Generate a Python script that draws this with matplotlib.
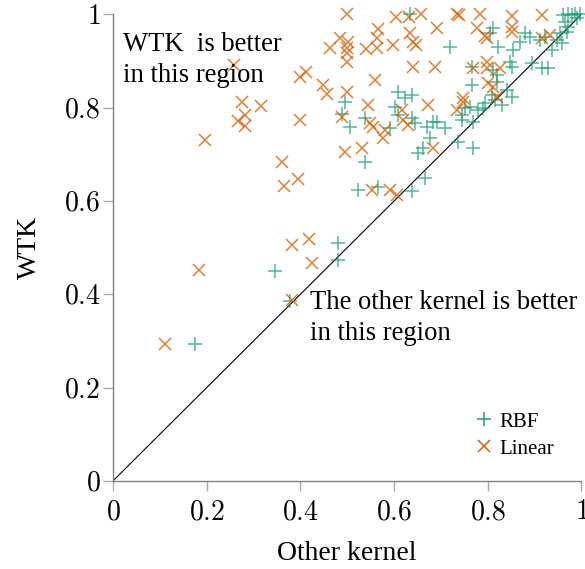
import numpy as np
from matplotlib import pyplot as plt

# Scores: x = other kernel, y = WTK
rbf_x = [0.175, 0.346, 0.378, 0.480, 0.480, 0.495, 0.489, 0.506, 0.538, 0.538,
         0.523, 0.566, 0.591, 0.602, 0.608, 0.623, 0.638, 0.634, 0.645, 0.670,
         0.683, 0.677, 0.662, 0.651, 0.666, 0.638, 0.692, 0.709, 0.736, 0.745,
         0.762, 0.768, 0.768, 0.790, 0.794, 0.815, 0.830, 0.852, 0.719, 0.811,
         0.805, 0.822, 0.879, 0.890, 0.869, 0.854, 0.954, 0.961, 0.971, 0.980,
         0.986, 0.997, 0.958, 0.937, 0.922, 0.971, 0.969, 0.847, 0.852, 0.894,
         0.916, 0.928, 0.820, 0.820, 0.766, 0.841, 0.809, 0.911, 0.948, 0.766,
         0.811, 0.751, 0.779, 0.608, 0.638, 0.745, 0.990, 0.965]
rbf_y = [0.294, 0.450, 0.386, 0.510, 0.474, 0.812, 0.786, 0.759, 0.778, 0.684,
         0.624, 0.630, 0.756, 0.801, 0.834, 0.821, 0.827, 1.000, 0.767, 0.759,
         0.769, 0.735, 0.714, 0.703, 0.649, 0.621, 0.769, 0.756, 0.726, 0.774,
         0.801, 0.769, 0.714, 0.799, 0.810, 0.816, 0.806, 0.823, 0.930, 0.971,
         0.960, 0.930, 0.960, 0.951, 0.941, 0.924, 0.960, 0.999, 1.000, 0.999,
         1.000, 1.000, 0.939, 0.924, 0.951, 0.973, 0.962, 0.898, 0.887, 0.896,
         0.885, 0.885, 0.870, 0.855, 0.849, 0.838, 0.827, 0.945, 0.945, 0.887,
         0.881, 0.799, 0.795, 0.784, 0.778, 0.784, 0.992, 0.984]

lin_x = [0.111, 0.184, 0.196, 0.258, 0.267, 0.275, 0.282, 0.282, 0.316, 0.361,
         0.365, 0.395, 0.382, 0.418, 0.425, 0.382, 0.399, 0.412, 0.399, 0.448,
         0.457, 0.463, 0.484, 0.501, 0.499, 0.499, 0.499, 0.499, 0.499, 0.489,
         0.495, 0.531, 0.540, 0.563, 0.563, 0.566, 0.559, 0.544, 0.549, 0.555,
         0.581, 0.576, 0.598, 0.604, 0.632, 0.657, 0.634, 0.640, 0.647, 0.640,
         0.617, 0.619, 0.630, 0.553, 0.591, 0.606, 0.672, 0.683, 0.687, 0.691,
         0.734, 0.739, 0.783, 0.852, 0.916, 0.777, 0.852, 0.852, 0.794, 0.798,
         0.916, 0.933, 0.768, 0.798, 0.798, 0.826, 0.800, 0.811, 0.747, 0.747,
         0.734, 0.820]
lin_y = [0.294, 0.452, 0.731, 0.891, 0.771, 0.812, 0.784, 0.761, 0.804, 0.684,
         0.632, 0.647, 0.506, 0.519, 0.467, 0.388, 0.866, 0.876, 0.774, 0.849,
         0.829, 0.928, 0.949, 0.941, 0.928, 0.917, 0.898, 1.000, 0.834, 0.780,
         0.705, 0.714, 0.926, 0.928, 0.949, 0.969, 0.859, 0.806, 0.767, 0.759,
         0.752, 0.735, 0.934, 0.994, 0.994, 1.000, 0.960, 0.941, 0.934, 0.887,
         0.795, 0.774, 0.763, 0.624, 0.624, 0.613, 0.806, 0.714, 0.887, 0.971,
         1.000, 0.998, 1.000, 0.996, 0.998, 0.971, 0.973, 0.962, 0.954, 0.949,
         0.949, 0.956, 0.885, 0.898, 0.885, 0.885, 0.853, 0.844, 0.821, 0.812,
         0.795, 0.823]

ticks = [0, 0.2, 0.4, 0.6, 0.8, 1]
tick_labels = ['$0$', '$0.2$', '$0.4$', '$0.6$', '$0.8$', '$1$']


def main():
    plt.rcParams['font.family'] = ['Liberation Serif', 'DejaVu Serif']
    plt.rcParams['mathtext.fontset'] = 'cm'

    fig = plt.figure(figsize=(5.85, 5.69), dpi=100)
    ax = fig.add_axes([0.193, 0.1547, 0.801, 0.820])

    green = '#1b9e77'
    orange = '#d95f02'

    # diagonal y = x
    ax.plot([0, 1], [0, 1], color='black', linewidth=0.8, zorder=1)

    ax.plot(rbf_x, rbf_y, '+', color=green, markersize=10.5, markeredgewidth=1.1,
            alpha=0.75, linestyle='none', label='RBF', clip_on=False, zorder=2)
    ax.plot(lin_x, lin_y, 'x', color=orange, markersize=9, markeredgewidth=1.1,
            alpha=0.8, linestyle='none', label='Linear', clip_on=False, zorder=3)

    ax.set_xlim(0, 1)
    ax.set_ylim(0, 1)
    ax.set_xticks(ticks)
    ax.set_xticklabels(tick_labels)
    ax.set_yticks(ticks)
    ax.set_yticklabels(tick_labels)
    ax.tick_params(axis='both', direction='out', length=7, width=1,
                   color='#aaaaaa', labelsize=20)
    ax.tick_params(axis='x', pad=7)
    ax.tick_params(axis='y', pad=2)

    for side in ['top', 'right']:
        ax.spines[side].set_visible(False)
    for side in ['left', 'bottom']:
        ax.spines[side].set_color('#808080')
        ax.spines[side].set_linewidth(1.0)

    ax.set_xlabel('Other kernel', fontsize=20, labelpad=11)
    ax.set_ylabel('WTK', fontsize=20, labelpad=16)

    ax.text(0.021, 0.855, 'WTK  is better\nin this region', fontsize=19.2,
            ha='left', va='baseline', linespacing=1.3)
    ax.text(0.420, 0.302, 'The other kernel is better\nin this region', fontsize=19.2,
            ha='left', va='baseline', linespacing=1.3)

    leg = ax.legend(loc='upper left', bbox_to_anchor=(0.75, 0.17), frameon=False,
                    fontsize=15, numpoints=1, handlelength=0.9, handletextpad=0.3,
                    borderpad=0, labelspacing=0.35)
    for h in leg.legend_handles:
        h.set_alpha(1.0)

    fig.savefig('out.png', dpi=100)


main()
